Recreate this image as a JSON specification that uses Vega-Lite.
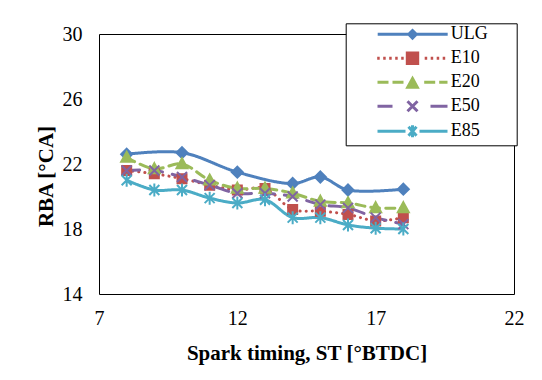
{
  "$schema": "https://vega.github.io/schema/vega-lite/v6.json",
  "width": 415,
  "height": 260,
  "autosize": "none",
  "padding": {"left": 99, "top": 34, "right": 28, "bottom": 86},
  "background": "white",
  "config": {
    "view": {"stroke": "#000", "strokeWidth": 1},
    "font": "Liberation Serif",
    "axis": {
      "grid": false,
      "ticks": false,
      "domain": false,
      "labelFont": "Liberation Serif",
      "labelFontSize": 20,
      "labelColor": "#000",
      "titleFont": "Liberation Serif",
      "titleFontSize": 21,
      "titleFontWeight": "bold",
      "titleColor": "#000",
      "labelFlush": false,
      "labelOverlap": false
    },
    "legend": {
      "orient": "none",
      "legendX": 246.7,
      "legendY": -10.7,
      "fillColor": "white",
      "strokeColor": "#000",
      "padding": 2,
      "symbolSize": 100,
      "symbolStrokeWidth": 3,
      "symbolOpacity": 1,
      "labelFont": "Liberation Serif",
      "labelFontSize": 18,
      "labelColor": "#000",
      "labelOffset": 85,
      "rowPadding": 2,
      "titleOrient": "right",
      "titleColor": "transparent",
      "titleFontSize": 10,
      "titlePadding": 24
    }
  },
  "data": {
    "values": [
      {"series": "ULG", "st": 8, "rba": 22.6},
      {"series": "ULG", "st": 10, "rba": 22.7},
      {"series": "ULG", "st": 12, "rba": 21.5},
      {"series": "ULG", "st": 14, "rba": 20.8},
      {"series": "ULG", "st": 15, "rba": 21.2},
      {"series": "ULG", "st": 16, "rba": 20.4},
      {"series": "ULG", "st": 18, "rba": 20.45},
      {"series": "E10", "st": 8, "rba": 21.6},
      {"series": "E10", "st": 9, "rba": 21.4},
      {"series": "E10", "st": 10, "rba": 21.1},
      {"series": "E10", "st": 11, "rba": 20.7},
      {"series": "E10", "st": 12, "rba": 20.4},
      {"series": "E10", "st": 13, "rba": 20.5},
      {"series": "E10", "st": 14, "rba": 19.2},
      {"series": "E10", "st": 15, "rba": 19.1},
      {"series": "E10", "st": 16, "rba": 18.9},
      {"series": "E10", "st": 17, "rba": 18.5},
      {"series": "E10", "st": 18, "rba": 18.7},
      {"series": "E20", "st": 8, "rba": 22.4},
      {"series": "E20", "st": 9, "rba": 21.7},
      {"series": "E20", "st": 10, "rba": 22.0},
      {"series": "E20", "st": 11, "rba": 21.0},
      {"series": "E20", "st": 12, "rba": 20.5},
      {"series": "E20", "st": 13, "rba": 20.5},
      {"series": "E20", "st": 14, "rba": 20.2},
      {"series": "E20", "st": 15, "rba": 19.7},
      {"series": "E20", "st": 16, "rba": 19.6},
      {"series": "E20", "st": 17, "rba": 19.3},
      {"series": "E20", "st": 18, "rba": 19.3},
      {"series": "E50", "st": 8, "rba": 21.6},
      {"series": "E50", "st": 9, "rba": 21.6},
      {"series": "E50", "st": 10, "rba": 21.2},
      {"series": "E50", "st": 11, "rba": 20.7},
      {"series": "E50", "st": 12, "rba": 20.2},
      {"series": "E50", "st": 13, "rba": 20.2},
      {"series": "E50", "st": 14, "rba": 20.0},
      {"series": "E50", "st": 15, "rba": 19.5},
      {"series": "E50", "st": 16, "rba": 19.3},
      {"series": "E50", "st": 17, "rba": 18.7},
      {"series": "E50", "st": 18, "rba": 18.3},
      {"series": "E85", "st": 8, "rba": 21.0},
      {"series": "E85", "st": 9, "rba": 20.4},
      {"series": "E85", "st": 10, "rba": 20.4},
      {"series": "E85", "st": 11, "rba": 19.9},
      {"series": "E85", "st": 12, "rba": 19.6},
      {"series": "E85", "st": 13, "rba": 19.8},
      {"series": "E85", "st": 14, "rba": 18.7},
      {"series": "E85", "st": 15, "rba": 18.7},
      {"series": "E85", "st": 16, "rba": 18.25},
      {"series": "E85", "st": 17, "rba": 18.05},
      {"series": "E85", "st": 18, "rba": 18.0}
    ]
  },
  "encoding": {
    "x": {
      "field": "st",
      "type": "quantitative",
      "scale": {"domain": [7, 22], "nice": false, "zero": false},
      "axis": {"values": [7, 12, 17, 22], "title": "Spark timing, ST [°BTDC]", "labelPadding": 14, "titlePadding": 14}
    },
    "y": {
      "field": "rba",
      "type": "quantitative",
      "scale": {"domain": [14, 30], "nice": false, "zero": false},
      "axis": {"values": [14, 18, 22, 26, 30], "title": "RBA [°CA]", "labelPadding": 17, "titleX": -53, "titleY": 142, "titleAlign": "center", "titleBaseline": "middle", "titleAngle": -90}
    }
  },
  "layer": [
    {
      "mark": {"type": "line", "strokeWidth": 3, "strokeCap": "round", "interpolate": "catmull-rom"},
      "encoding": {
        "stroke": {
          "field": "series", "type": "nominal", "legend": null,
          "scale": {"domain": ["ULG", "E10", "E20", "E50", "E85"], "range": ["#4F81BD", "#C0504D", "#9BBB59", "#8064A2", "#4BACC6"]}
        },
        "strokeDash": {
          "field": "series", "type": "nominal", "legend": null,
          "scale": {"domain": ["ULG", "E10", "E20", "E50", "E85"], "range": [[1, 0], [0.1, 6], [9, 6], [13, 10], [1, 0]]}
        }
      }
    },
    {
      "mark": {"type": "point", "filled": true, "size": 100, "strokeWidth": 2, "opacity": 1},
      "encoding": {
        "shape": {
          "field": "series", "type": "nominal", "legend": null,
          "scale": {"domain": ["ULG", "E10", "E20", "E50", "E85"], "range": [
            "M0,-1.1L1.1,0L0,1.1L-1.1,0Z",
            "M-0.9,-0.9H0.9V0.9H-0.9Z",
            "M0,-1.15L1.1,0.85L-1.1,0.85Z",
            "M-1,-1L1,1M-1,1L1,-1",
            "M-1,-1L1,1M-1,1L1,-1M0,-1.3V1.3"
          ]}
        },
        "fill": {
          "field": "series", "type": "nominal", "legend": null,
          "scale": {"domain": ["ULG", "E10", "E20", "E50", "E85"], "range": ["#4F81BD", "#C0504D", "#9BBB59", "#8064A2", "#4BACC6"]}
        },
        "stroke": {
          "field": "series", "type": "nominal", "legend": null,
          "scale": {"domain": ["ULG", "E10", "E20", "E50", "E85"], "range": ["#4F81BD", "#C0504D", "#9BBB59", "#8064A2", "#4BACC6"]}
        }
      }
    },
    {
      "transform": [{"filter": "false"}],
      "mark": {"type": "point", "filled": true, "size": 100, "strokeWidth": 3, "opacity": 1},
      "encoding": {
        "fill": {
          "field": "series", "type": "nominal",
          "scale": {"domain": ["ULG", "E10", "E20", "E50", "E85"], "range": ["#4F81BD", "#C0504D", "#9BBB59", "#8064A2", "#4BACC6"]},
          "legend": {"title": "."}
        },
        "stroke": {
          "field": "series", "type": "nominal",
          "scale": {"domain": ["ULG", "E10", "E20", "E50", "E85"], "range": ["#4F81BD", "#C0504D", "#9BBB59", "#8064A2", "#4BACC6"]},
          "legend": {"title": "."}
        },
        "shape": {
          "field": "series", "type": "nominal",
          "scale": {"domain": ["ULG", "E10", "E20", "E50", "E85"], "range": [
            "M4.2,0H18.2M11.16,-0.75L11.91,0L11.16,0.75L10.41,0Z",
            "M4.1,0h0.5M5.3,0h0.5M6.5,0h0.5M7.7,0h0.5M8.9,0h0.5M10.12,-1.04H12.2V1.04H10.12ZM13.6,0h0.5M14.8,0h0.5M16,0h0.5M17.2,0h0.5",
            "M4.16,0H6.36M7.16,0H9.36M13.5,0H15.7M16.5,0H18.16M11.16,-0.75L12.11,1L10.21,1Z",
            "M4.16,0H7.16M14.76,0H18.16M10.16,-1L12.16,1M10.16,1L12.16,-1",
            "M4.16,0H9.76M12.56,0H18.16M10.36,-0.9L11.96,0.9M10.36,0.9L11.96,-0.9M11.16,-1.2V1.2"
          ]},
          "legend": {"title": "."}
        }
      }
    }
  ],
  "resolve": {"scale": {"shape": "independent", "fill": "independent", "stroke": "independent"}}
}
